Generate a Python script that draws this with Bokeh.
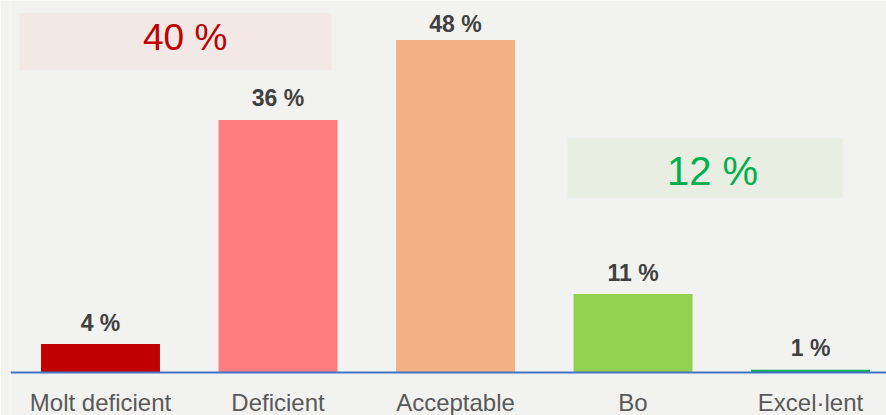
from bokeh.plotting import figure
from bokeh.models import ColumnDataSource, Range1d, LabelSet, BoxAnnotation, Label, Span
from bokeh.core.properties import value
from bokeh.embed import file_html
from bokeh.resources import INLINE

# ---- data ----
categories = ["Molt deficient", "Deficient", "Acceptable", "Bo", "Excel·lent"]
values = [4.1, 36.4, 47.9, 11.3, 0.4]
value_labels = ["4 %", "36 %", "48 %", "11 %", "1 %"]
colors = ["#c00000", "#ff7c80", "#f4b183", "#92d050", "#00b050"]
group_labels = ["40 %", "12 %"]          # Molt deficient + Deficient, Bo + Excel·lent
group_members = [[0, 1], [3, 4]]

# ---- styling ----
BG = "#f2f2f1"
FONT = "Liberation Sans"
PX_PER_UNIT = 6.94
ZERO_PX = 372            # pixel row of the baseline
FIG_W, FIG_H = 886, 415
LABEL_GAP_PX = 13.5      # gap between bar top and its value label
LABEL_MAX_PX = 31        # value labels are kept below this pixel row
group_text_colors = ["#c00000", "#00b050"]
group_fill_colors = ["#f2e8e6", "#e8eee2"]
group_font_sizes = ["37px", "40px"]
group_box_x_pad = [(-0.456, 0.301), (-0.369, 0.180)]
group_box_y = [(43.6, 51.8), (25.1, 33.8)]
group_text_dx = [-0.023, -0.052]
group_text_y = [48.3, 29.0]
cat_label_y = -4.30      # category names position, in value units below zero

label_cap = (ZERO_PX - LABEL_MAX_PX) / PX_PER_UNIT
label_y = [min(v + LABEL_GAP_PX / PX_PER_UNIT, label_cap) for v in values]

src = ColumnDataSource(dict(
    x=list(range(len(categories))),
    top=values,
    label=value_labels,
    label_y=label_y,
    color=colors,
    cat=categories,
    cat_y=[cat_label_y] * len(categories),
))

y_start = -(FIG_H - ZERO_PX) / PX_PER_UNIT
y_end = ZERO_PX / PX_PER_UNIT

p = figure(width=FIG_W, height=FIG_H,
           x_range=Range1d(-0.507, 4.428), y_range=Range1d(y_start, y_end),
           x_axis_location=None, y_axis_location=None,
           toolbar_location=None, output_backend="svg",
           min_border_left=10, min_border_right=0, min_border_top=0, min_border_bottom=0)
p.background_fill_color = BG
p.border_fill_color = BG
p.outline_line_color = None
p.grid.visible = False

p.vbar(x="x", top="top", bottom=0, width=0.67, fill_color="color", line_color=None, source=src)

p.add_layout(Span(location=0, dimension="width", line_color="#4472c4", line_width=2))

p.text(x="x", y="cat_y", text="cat", source=src,
       text_align="center", text_baseline="alphabetic",
       text_font=value(FONT), text_font_size="24px", text_color="#595959")

p.add_layout(LabelSet(x="x", y="label_y", text="label", source=src,
                      text_align="center", text_baseline="alphabetic",
                      text_font=value(FONT), text_font_size="23px", text_font_style="bold",
                      text_color="#404040"))

for k, members in enumerate(group_members):
    left = members[0] + group_box_x_pad[k][0]
    right = members[-1] + group_box_x_pad[k][1]
    p.add_layout(BoxAnnotation(left=left, right=right,
                               bottom=group_box_y[k][0], top=group_box_y[k][1],
                               fill_color=group_fill_colors[k], fill_alpha=1.0,
                               line_color=None, level="underlay"))
    cx = (members[0] + members[-1]) / 2 + group_text_dx[k]
    p.add_layout(Label(x=cx, y=group_text_y[k], text=group_labels[k],
                       text_align="center", text_baseline="middle",
                       text_font=FONT, text_font_size=group_font_sizes[k],
                       text_color=group_text_colors[k]))

open("out.html", "w").write(file_html(p, INLINE))
